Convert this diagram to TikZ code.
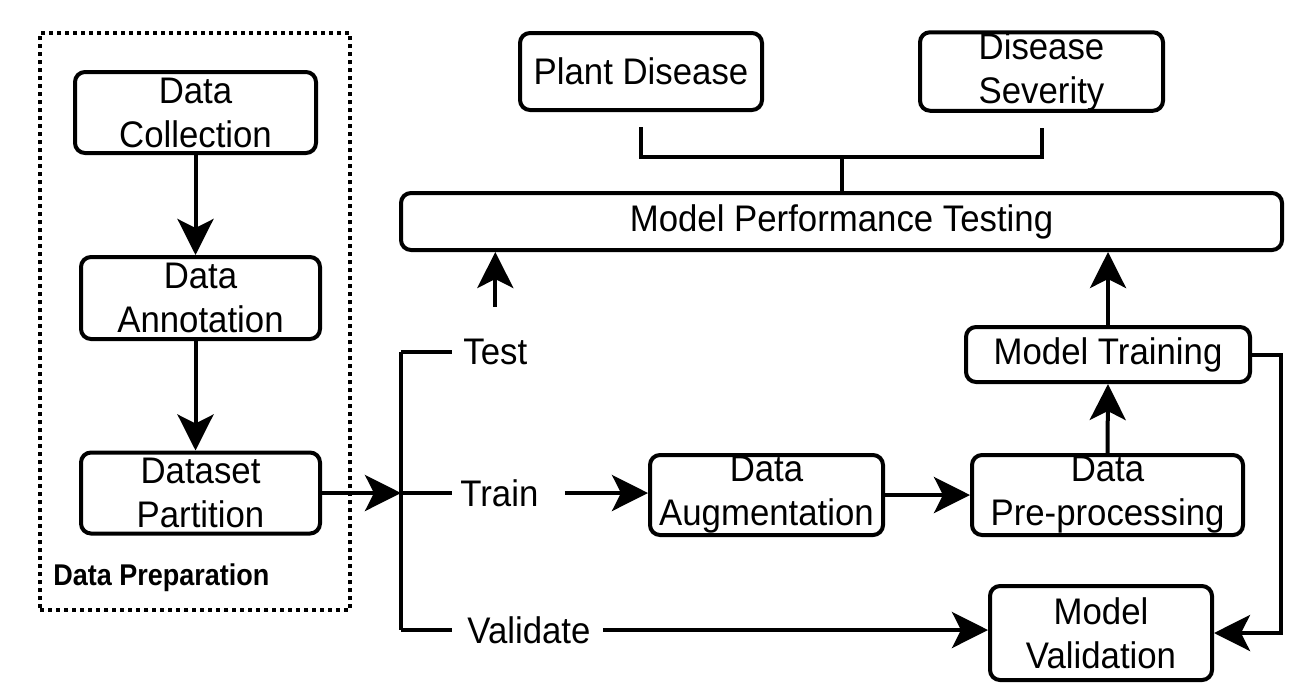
\documentclass[tikz,border=0pt]{standalone}
\usepackage{fontspec}
\setmainfont{Liberation Sans}[FakeStretch=0.94]
\newfontfamily\preplabelfont{Liberation Sans}[FakeStretch=0.9]
\usetikzlibrary{arrows.meta}
\begin{document}
\begin{tikzpicture}[x=0.5pt,y=-0.5pt,
  box/.style={draw, line width=2pt, rounded corners=5pt, align=center, inner sep=0pt,
    font=\fontsize{18.5}{22}\selectfont},
  lbl/.style={inner sep=3pt, font=\fontsize{18.5}{22}\selectfont},
  conn/.style={line width=2pt},
  arr/.style={line width=2pt, -{Stealth[length=18pt, width=18pt, inset=4.5pt]}},
  dotbox/.style={draw, line width=2pt, dash pattern=on 2pt off 2pt, inner sep=0pt}]
\useasboundingbox (0,0) rectangle (1316,692);

% data preparation group
\node[dotbox, minimum width=155pt, minimum height=288.5pt] (prep) at (195,321.5) {};
\node[anchor=west, inner sep=0pt, font=\preplabelfont\fontsize{15}{17}\selectfont\bfseries] (preplbl) at (53,578) {Data Preparation};

\node[box, minimum width=120.5pt, minimum height=40.5pt] (coll) at (195.5,112.5) {Data\\Collection};
\node[box, minimum width=119.5pt, minimum height=41pt] (anno) at (200.5,298) {Data\\Annotation};
\node[box, minimum width=119.5pt, minimum height=40.5pt] (part) at (200.5,493) {Dataset\\Partition};

\node[box, minimum width=116.5pt, minimum height=40pt] (aug) at (766.5,495) {Data\\Augmentation};
\node[box, minimum width=135.5pt, minimum height=40pt] (pre) at (1107.5,495) {Data\\Pre-processing};
\node[box, minimum width=142pt, minimum height=27.5pt] (train) at (1108,354.5) {Model Training};
\node[box, minimum width=440.5pt, minimum height=28.5pt] (mpt) at (841.5,221.5) {Model Performance Testing};
\node[box, minimum width=121pt, minimum height=38.5pt] (plant) at (641,71.5) {Plant Disease};
\node[box, minimum width=121.5pt, minimum height=38.5pt] (sev) at (1041.5,71.5) {Disease\\Severity};
\node[box, minimum width=111pt, minimum height=47pt] (val) at (1101,633) {Model\\Validation};

\node[lbl, anchor=west] (test) at (457,352) {Test};
\node[lbl, anchor=west] (trn) at (454,493) {Train};
\node[lbl, anchor=west] (vald) at (461,630) {Validate};

\coordinate (br) at (401,493);
\coordinate (brT) at (401,352);
\coordinate (brV) at (401,630);
\coordinate (join) at (842,157);
\coordinate (tv) at (1281,633);

% connectors
\draw[arr] (coll) -- (anno.north -| coll);
\draw[arr] (anno.south -| coll) -- (part.north -| coll);
\draw[arr] (part.east) -- (br);
\draw[conn] (brT) -- (brV);
\draw[conn] (brT) -- ([xshift=-2.5pt]test.west);
\draw[conn] (br) -- ([xshift=-1pt]trn.west);
\draw[conn] (brV) -- ([xshift=-4.5pt]vald.west);
\draw[arr] ([xshift=10pt]trn.east) -- (trn.east -| aug.west);
\draw[arr] (aug.east) -- (pre.west);
\draw[arr] (pre.north) -- (train.south);
\draw[arr] (train.north) -- (mpt.south -| train.north);
\draw[arr] ([yshift=13pt]test.north) -- (mpt.south -| test.north);
\draw[conn] ([yshift=-7.5pt]plant.south) |- (join) -| ([yshift=-7.5pt]sev.south);
\draw[conn] (join) -- (join |- mpt.north);
\draw[arr] ([xshift=3pt]vald.east) -- (vald.east -| val.west);
\draw[arr] (train.east) -| (tv) -- (val.east);
\end{tikzpicture}
\end{document}
